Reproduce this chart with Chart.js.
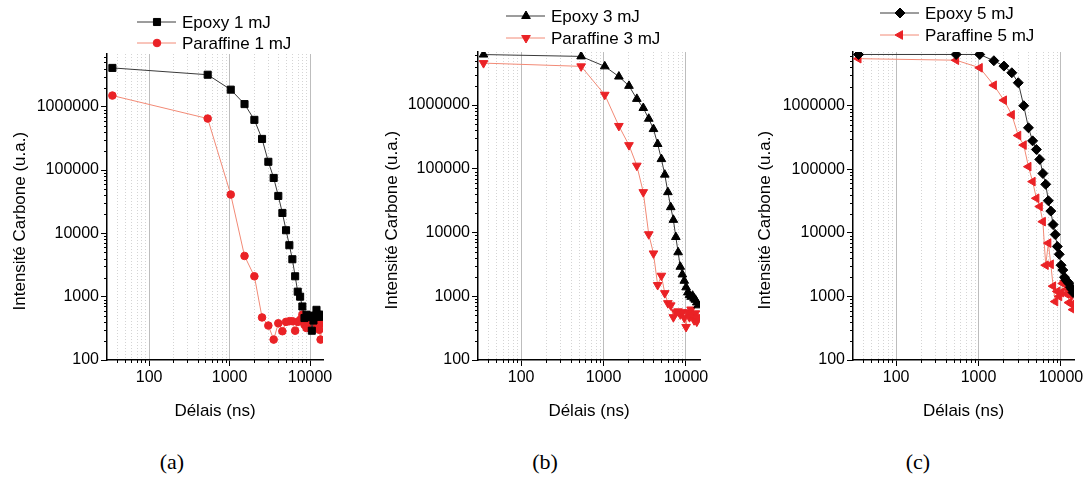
<!DOCTYPE html>
<html lang="fr">
<head>
    <meta charset="UTF-8">
    <title>Intensité Carbone vs Délais</title>
    <script src="https://cdn.jsdelivr.net/npm/chart.js@4.4.0/dist/chart.umd.min.js"></script>
    <style>
      body { margin: 0; background: #fff; }
      #wrap { position: relative; width: 1086px; height: 480px; }
      canvas { position: absolute; top: 0; }
      .cap { position: absolute; top: 449px; width: 60px; text-align: center;
             font-family: "Liberation Serif", serif; font-size: 22px; color: #000; }
    </style>
</head>
<body>
<div id="wrap">
  <canvas id="chartA" width="340" height="440" style="left:0px"></canvas>
  <canvas id="chartB" width="340" height="440" style="left:372px"></canvas>
  <canvas id="chartC" width="341" height="440" style="left:745px"></canvas>
  <div class="cap" style="left:142px">(a)</div>
  <div class="cap" style="left:515px">(b)</div>
  <div class="cap" style="left:888px">(c)</div>
</div>
<script>
// delays (ns)
const delays = [35, 535, 1035, 1535, 2035, 2535, 3035, 3535, 4035, 4535, 5035, 5535, 6035, 6535, 7035,
                7535, 8035, 8535, 9035, 9535, 10035, 10535, 11035, 11535, 12035, 12535, 13035, 13535, 14035];

// panel (a) 1 mJ
const epoxy1 = [4.1e6, 3.2e6, 1.86e6, 1.1e6, 6.2e5, 3.1e5, 1.35e5, 7.5e4, 3.9e4, 2.1e4, 1.12e4, 6.5e3, 3.9e3, 2.1e3, 1.2e3,
                1000, 700, 460, 520, 480, 500, 290, 420, 500, 620, 520, 480, 520, 500];
const paraffine1 = [1.5e6, 6.5e5, 4.1e4, 4.4e3, 2.1e3, 470, 350, 210, 380, 285, 400, 410, 410, 290, 400,
                    430, 520, 360, 320, 400, 360, 470, 390, 330, 400, 470, 300, 210, 380];
// panel (b) 3 mJ
const epoxy3 = [6.2e6, 5.8e6, 4.05e6, 2.8e6, 2.0e6, 1.25e6, 9.0e5, 6.1e5, 4.2e5, 2.45e5, 1.42e5, 8.1e4, 4.3e4, 2.5e4, 1.58e4,
                8.5e3, 4.9e3, 2.9e3, 2.2e3, 1.75e3, 1.38e3, 1.15e3, 1050, 980, 1020, 920, 880, 800, 720];
const paraffine3 = [4.55e6, 4.05e6, 1.45e6, 4.7e5, 2.35e5, 1.12e5, 4.3e4, 9.4e3, 4.7e3, 1.5e3, 2.1e3, 1.12e3, 780, 720, 470,
                    560, 580, 520, 560, 460, 330, 560, 470, 620, 500, 420, 540, 400, 470];
// panel (c) 5 mJ
const epoxy5 = [6.4e6, 6.4e6, 6.4e6, 5.1e6, 4.2e6, 3.3e6, 2.3e6, 1.0e6, 4.5e5, 2.8e5, 2.05e5, 1.43e5, 8.6e4, 5.8e4, 3.2e4,
                2.2e4, 1.35e4, 9.4e3, 6.1e3, 4.6e3, 3.1e3, 2.6e3, 2.0e3, 1.8e3, 1.7e3, 1.6e3, 1.4e3, 1.3e3, 1.15e3];
const paraffine5 = [5.5e6, 5.2e6, 3.95e6, 2.1e6, 1.22e6, 7.2e5, 3.4e5, 2.4e5, 1.1e5, 6.4e4, 3.5e4, 2.6e4, 1.5e4, 3.1e3, 6.9e3,
                    3.2e3, 1.45e3, 830, 1.2e3, 1.0e3, 1.15e3, 1.6e3, 1.75e3, 1.1e3, 1.3e3, 800, 1.05e3, 750, 620];

// ticks
const xLabels = [100, 1000, 10000];
const xMinor = [40, 50, 60, 70, 80, 90, 200, 300, 400, 500, 600, 700, 800, 900,
                2000, 3000, 4000, 5000, 6000, 7000, 8000, 9000];
const yTicks = [100, 1000, 10000, 100000, 1000000];
const yMinor = [200, 300, 400, 500, 600, 700, 800, 900,
                2000, 3000, 4000, 5000, 6000, 7000, 8000, 9000,
                20000, 30000, 40000, 50000, 60000, 70000, 80000, 90000,
                200000, 300000, 400000, 500000, 600000, 700000, 800000, 900000,
                2000000, 3000000, 4000000, 5000000, 6000000];

const FONT = '"Liberation Sans", Arial, sans-serif';
const BLACK_LINE = '#3a3a3a';
const RED_LINE = '#f28a76';
const RED = '#ea2226';

function pts(ys) {
  return delays.map((d, i) => ({ x: d, y: ys[i] }));
}

function series(label, ys, black, style, rot, r) {
  return {
    label: label,
    data: pts(ys),
    borderColor: black ? BLACK_LINE : RED_LINE,
    borderWidth: 1,
    pointStyle: style,
    rotation: rot,
    pointRadius: r,
    pointBackgroundColor: black ? '#000' : RED,
    pointBorderColor: black ? '#000' : RED,
    pointBorderWidth: 1,
    tension: 0
  };
}

// dotted minor grid + short minor ticks on both axes
const minorGrid = {
  id: 'minorGrid',
  beforeDatasetsDraw(chart) {
    const ctx = chart.ctx, a = chart.chartArea;
    const xs = chart.scales.x, ys = chart.scales.y;
    ctx.save();
    ctx.strokeStyle = '#d4d4d4';
    ctx.lineWidth = 1;
    ctx.setLineDash([1, 2]);
    xMinor.forEach(v => {
      const px = Math.round(xs.getPixelForValue(v)) + 0.5;
      ctx.beginPath(); ctx.moveTo(px, a.top); ctx.lineTo(px, a.bottom); ctx.stroke();
    });
    ctx.setLineDash([]);
    ctx.strokeStyle = '#000';
    xMinor.forEach(v => {
      const px = Math.round(xs.getPixelForValue(v)) + 0.5;
      ctx.beginPath(); ctx.moveTo(px, a.bottom); ctx.lineTo(px, a.bottom + 3); ctx.stroke();
    });
    yMinor.forEach(v => {
      if (v > ys.max) return;
      const py = Math.round(ys.getPixelForValue(v)) + 0.5;
      ctx.beginPath(); ctx.moveTo(a.left - 3, py); ctx.lineTo(a.left, py); ctx.stroke();
    });
    ctx.restore();
  }
};

// line + marker + text legend at the top
const legendLines = {
  id: 'legendLines',
  afterDraw(chart, args, opts) {
    const ctx = chart.ctx;
    chart.data.datasets.forEach((ds, i) => {
      const y = opts.rows[i];
      const x0 = chart.chartArea.left + opts.offset;
      ctx.save();
      ctx.strokeStyle = ds.borderColor;
      ctx.lineWidth = 1;
      ctx.beginPath();
      ctx.moveTo(x0, y);
      ctx.lineTo(x0 + 39, y);
      ctx.stroke();
      ctx.fillStyle = ds.pointBackgroundColor;
      ctx.strokeStyle = ds.pointBorderColor;
      Chart.helpers.drawPoint(ctx, { pointStyle: ds.pointStyle, rotation: ds.rotation || 0,
                                     radius: ds.pointRadius, borderWidth: 1 }, x0 + 20, y);
      ctx.fillStyle = '#000';
      ctx.font = '17px ' + FONT;
      ctx.textBaseline = 'middle';
      ctx.fillText(ds.label, x0 + 45, y + 1);
      ctx.restore();
    });
  }
};

function makeChart(id, datasets, o) {
  const ctx = document.getElementById(id).getContext('2d');
  return new Chart(ctx, {
    type: 'line',
    data: { datasets: datasets },
    plugins: [minorGrid, legendLines],
    options: {
      responsive: false,
      animation: false,
      layout: { padding: { top: o.top, right: o.right, left: 0, bottom: 0 } },
      plugins: {
        legend: { display: false },
        tooltip: { enabled: false },
        legendLines: { offset: o.legOffset, rows: o.rows }
      },
      scales: {
        x: {
          type: 'logarithmic',
          min: 30,
          max: o.xMax,
          afterBuildTicks: s => { s.ticks = xLabels.map(v => ({ value: v, major: true })); },
          afterFit: s => { s.height = 80; },
          ticks: {
            autoSkip: false, maxRotation: 0, padding: 2, color: '#000',
            font: { family: FONT, size: 16 },
            callback: v => String(v)
          },
          grid: { color: '#bdbdbd', lineWidth: 1, tickLength: 6, tickColor: '#000' },
          border: { color: '#000', width: 1.5 },
          title: {
            display: true, text: 'Délais (ns)', color: '#000',
            font: { family: FONT, size: 17 }, padding: { top: 0, bottom: 18 }
          }
        },
        y: {
          type: 'logarithmic',
          min: 100,
          max: o.yMax,
          afterBuildTicks: s => { s.ticks = yTicks.map(v => ({ value: v, major: true })); },
          afterFit: s => { s.width = o.axisW; },
          ticks: {
            padding: 2, color: '#000',
            font: { family: FONT, size: 16 },
            callback: v => String(v)
          },
          grid: { drawOnChartArea: false, tickLength: 6, tickColor: '#000' },
          border: { color: '#000', width: 1.5 },
          title: {
            display: true, text: 'Intensité Carbone (u.a.)      ', color: '#000',
            font: { family: FONT, size: 17 }, padding: { top: 10, bottom: 0 }
          }
        }
      }
    }
  });
}

makeChart('chartA', [
  series('Epoxy 1 mJ', epoxy1, true, 'rect', 0, 5),
  series('Paraffine 1 mJ', paraffine1, false, 'circle', 0, 3.8)
], { top: 54, right: 17, axisW: 107, xMax: 14500, yMax: 6.8e6, legOffset: 30, rows: [22, 43] });

makeChart('chartB', [
  series('Epoxy 3 mJ', epoxy3, true, 'triangle', 0, 5),
  series('Paraffine 3 mJ', paraffine3, false, 'triangle', 180, 5)
], { top: 52, right: 12, axisW: 106, xMax: 14800, yMax: 6.8e6, legOffset: 28, rows: [16, 38] });

makeChart('chartC', [
  series('Epoxy 5 mJ', epoxy5, true, 'rectRot', 0, 5),
  series('Paraffine 5 mJ', paraffine5, false, 'triangle', -90, 5)
], { top: 52, right: 12, axisW: 108, xMax: 14400, yMax: 7e6, legOffset: 27, rows: [13, 35] });
</script>
</body>
</html>
